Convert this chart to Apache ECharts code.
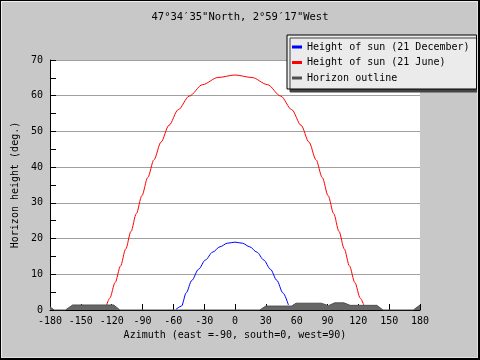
<!DOCTYPE html>
<html>
<head>
<meta charset="utf-8">
<script src="https://cdn.jsdelivr.net/npm/echarts@6/dist/echarts.min.js"></script>
<style>
html,body{margin:0;padding:0;background:#c8c8c8;}
#wrap{position:relative;width:480px;height:360px;}
#chart{position:absolute;left:0;top:0;width:480px;height:360px;}
#frame{position:absolute;left:0;top:0;width:480px;height:360px;box-sizing:border-box;
  border-top:1px solid #000;border-left:1px solid #000;border-right:2px solid #000;border-bottom:2px solid #000;pointer-events:none;}
#frame2{position:absolute;left:1px;top:1px;width:477px;height:357px;box-sizing:border-box;
  border-top:1px solid #eee;border-left:1px solid #eee;border-right:1px solid #e0e0e0;border-bottom:1px solid #e0e0e0;pointer-events:none;}
</style>
</head>
<body>
<div id="wrap"><div id="chart"></div><div id="frame"></div><div id="frame2"></div></div>
<script>
var titleText = '47°34′35"North, 2°59′17"West';
var xName = 'Azimuth (east =-90, south=0, west=90)';
var yName = 'Horizon height (deg.)';
var seriesNames = ['Height of sun (21 December)', 'Height of sun (21 June)', 'Horizon outline'];

var decemberSun = [[-57.4,0.2],[-52.0,1.1],[-47.5,4.8],[-42.0,8.3],[-35.5,11.4],[-28.8,14.0],[-21.8,16.2],[-14.6,17.7],[-7.4,18.7],[0,19.0],[7.2,18.7],[14.3,17.7],[21.3,16.2],[28.0,14.0],[34.5,11.4],[40.7,8.3],[46.6,4.8],[52.0,1.4]];

var juneSun = [[-125.0,1.3],[-121.9,3.3],[-116.6,7.7],[-111.4,12.3],[-106.3,17.1],[-101.2,22.0],[-96.0,27.0],[-90.6,32.0],[-84.9,37.1],[-78.8,42.1],[-72.0,47.0],[-64.3,51.7],[-55.2,56.1],[-44.5,59.9],[-31.6,63.1],[-16.6,65.1],[0,65.8],[16.6,65.1],[31.6,63.1],[44.5,59.9],[55.2,56.1],[64.3,51.7],[72.0,47.0],[78.8,42.1],[84.9,37.1],[90.6,32.0],[96.0,27.0],[101.2,22.0],[106.3,17.1],[111.4,12.3],[116.6,7.7],[121.9,3.3],[125.5,1.2]];

var horizon = [[-180,0.9],[-176,0],[-165,0],[-158,1.4],[-118,1.4],[-112,0],[24,0],[30,1.1],[55,1.1],[59.5,1.9],[84,1.9],[90.8,1.2],[97,2.0],[106,2.0],[112,1.3],[138,1.3],[144,0],[173.5,0],[180,1.4]];

var xMin = -180, xMax = 180, xStep = 30;
var yMin = 0, yMax = 70, yStep = 10;

var font = 'DejaVu Sans Mono';
var chart = echarts.init(document.getElementById('chart'), null, {renderer:'canvas'});
chart.setOption({
  backgroundColor: '#c8c8c8',
  animation: false,
  title: {
    text: titleText, left: 'center', top: 7,
    textStyle: {fontFamily: font, fontSize: 10.5, fontWeight: 'normal', color: '#000'}
  },
  legend: {
    orient: 'vertical', left: 287, top: 35,
    data: seriesNames,
    backgroundColor: '#ebebeb', borderColor: '#000', borderWidth: 1,
    shadowColor: '#444', shadowBlur: 0, shadowOffsetX: 3, shadowOffsetY: 3,
    padding: [6, 7, 5, 5],
    itemWidth: 10, itemHeight: 3, itemGap: 3.5,
    icon: 'rect',
    textStyle: {fontFamily: font, fontSize: 10, color: '#000', lineHeight: 12}
  },
  grid: {left: 50, right: 60, top: 60, bottom: 50, containLabel: false, backgroundColor: '#fff', show: true, borderWidth: 0},
  xAxis: {
    type: 'value', min: xMin, max: xMax, interval: xStep,
    name: xName, nameLocation: 'middle', nameGap: 20,
    nameTextStyle: {fontFamily: font, fontSize: 10, color: '#000'},
    axisLine: {show: true, onZero: false, lineStyle: {color: '#000', width: 1}},
    axisTick: {show: true, inside: true, length: 6, lineStyle: {color: '#000'}},
    axisLabel: {fontFamily: font, fontSize: 10, color: '#000', margin: 6, showMinLabel: true, showMaxLabel: true},
    splitLine: {show: false}
  },
  yAxis: {
    type: 'value', min: yMin, max: yMax, interval: yStep,
    name: yName, nameLocation: 'middle', nameGap: 25, nameRotate: 90,
    nameTextStyle: {fontFamily: font, fontSize: 10, color: '#000'},
    axisLine: {show: true, onZero: false, lineStyle: {color: '#000', width: 1}},
    axisTick: {show: true, inside: true, length: 6, lineStyle: {color: '#000'}},
    minorTick: {show: true, splitNumber: 2, length: 6, lineStyle: {color: '#000'}},
    axisLabel: {fontFamily: font, fontSize: 10, color: '#000', margin: 7},
    splitLine: {show: true, lineStyle: {color: '#a0a0a0', width: 1}}
  },
  series: [
    {name: seriesNames[0], type: 'line', data: decemberSun, showSymbol: false, smooth: 0.3, smoothMonotone: 'x',
     color: '#0000ff', lineStyle: {color: '#0000ff', width: 1}, z: 2},
    {name: seriesNames[1], type: 'line', data: juneSun, showSymbol: false, smooth: 0.3, smoothMonotone: 'x',
     color: '#ff0000', lineStyle: {color: '#ff0000', width: 1}, z: 2},
    {name: seriesNames[2], type: 'line', data: horizon, showSymbol: false,
     color: '#505050', lineStyle: {color: '#505050', width: 1}, areaStyle: {color: '#666666', opacity: 1}, z: 3}
  ]
});
</script>
</body>
</html>
